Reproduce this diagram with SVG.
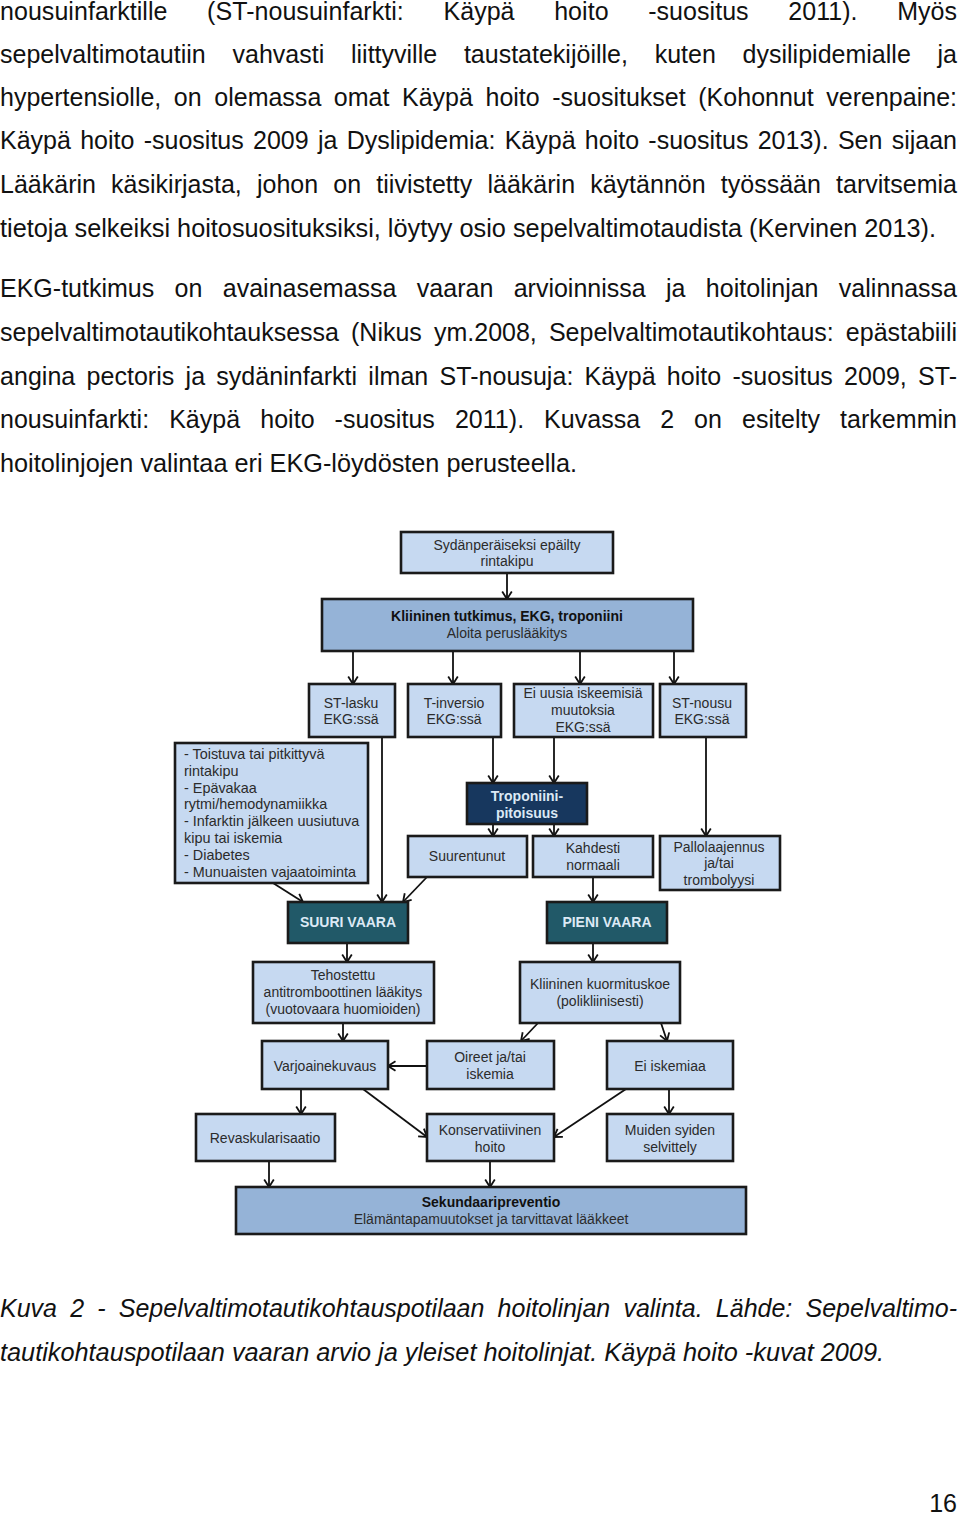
<svg xmlns="http://www.w3.org/2000/svg" width="960" height="1515" viewBox="0 0 960 1515">
<defs>
<marker id="ah" markerUnits="userSpaceOnUse" markerWidth="14" markerHeight="14" viewBox="-10 -7 14 14" refX="0" refY="0" orient="auto">
<path d="M-7.5,-4.8 L0,0 L-7.5,4.8" fill="none" stroke="#111" stroke-width="1.8"/>
</marker>
<style>
.body{font-family:"Liberation Sans",Arial,sans-serif;font-size:25px;fill:#111}
.cap{font-family:"Liberation Sans",Arial,sans-serif;font-size:25px;font-style:italic;fill:#111}
.lb{fill:#c6d9f1;stroke:#1a1a1a;stroke-width:2.6}
.mb{fill:#95b3d7;stroke:#1a1a1a;stroke-width:2.6}
.nv{fill:#17375e;stroke:#1a1a1a;stroke-width:2.6}
.tl{fill:#215968;stroke:#1a1a1a;stroke-width:2.6}
.t{font-family:"Liberation Sans",Arial,sans-serif;font-size:14px;fill:#2b2b2b;text-anchor:middle}
.tb{font-family:"Liberation Sans",Arial,sans-serif;font-size:14px;font-weight:bold;fill:#111;text-anchor:middle}
.tw{font-family:"Liberation Sans",Arial,sans-serif;font-size:14px;font-weight:bold;fill:#dce9f5;text-anchor:middle}
.tlft{font-family:"Liberation Sans",Arial,sans-serif;font-size:14.4px;fill:#2b2b2b}
.cn line{stroke:#111;stroke-width:1.8;marker-end:url(#ah)}
</style>
</defs>
<rect width="960" height="1515" fill="#fff"/>

<g id="bodytext">
<text class="body" x="0" y="20" word-spacing="32.6" textLength="957" lengthAdjust="spacing">nousuinfarktille (ST-nousuinfarkti: Käypä hoito -suositus 2011). Myös</text>
<text class="body" x="0" y="63" word-spacing="19.8" textLength="957" lengthAdjust="spacing">sepelvaltimotautiin vahvasti liittyville taustatekijöille, kuten dysilipidemialle ja</text>
<text class="body" x="0" y="106" word-spacing="5.6" textLength="957" lengthAdjust="spacing">hypertensiolle, on olemassa omat Käypä hoito -suositukset (Kohonnut verenpaine:</text>
<text class="body" x="0" y="149" word-spacing="2.3" textLength="957" lengthAdjust="spacing">Käypä hoito -suositus 2009 ja Dyslipidemia: Käypä hoito -suositus 2013). Sen sijaan</text>
<text class="body" x="0" y="193" word-spacing="8.2" textLength="957" lengthAdjust="spacing">Lääkärin käsikirjasta, johon on tiivistetty lääkärin käytännön työssään tarvitsemia</text>
<text class="body" x="0" y="237" textLength="936" lengthAdjust="spacingAndGlyphs">tietoja selkeiksi hoitosuosituksiksi, löytyy osio sepelvaltimotaudista (Kervinen 2013).</text>
<text class="body" x="0" y="297" word-spacing="13.4" textLength="957" lengthAdjust="spacing">EKG-tutkimus on avainasemassa vaaran arvioinnissa ja hoitolinjan valinnassa</text>
<text class="body" x="0" y="341" word-spacing="5.2" textLength="957" lengthAdjust="spacing">sepelvaltimotautikohtauksessa (Nikus ym.2008, Sepelvaltimotautikohtaus: epästabiili</text>
<text class="body" x="0" y="385" word-spacing="4.2" textLength="957" lengthAdjust="spacing">angina pectoris ja sydäninfarkti ilman ST-nousuja: Käypä hoito -suositus 2009, ST-</text>
<text class="body" x="0" y="428" word-spacing="13.0" textLength="957" lengthAdjust="spacing">nousuinfarkti: Käypä hoito -suositus 2011). Kuvassa 2 on esitelty tarkemmin</text>
<text class="body" x="0" y="472" textLength="577" lengthAdjust="spacingAndGlyphs">hoitolinjojen valintaa eri EKG-löydösten perusteella.</text>
<text class="cap" x="0" y="1317" word-spacing="6.2" textLength="957" lengthAdjust="spacing">Kuva 2 - Sepelvaltimotautikohtauspotilaan hoitolinjan valinta. Lähde: Sepelvaltimo-</text>
<text class="cap" x="0" y="1361" textLength="884" lengthAdjust="spacingAndGlyphs">tautikohtauspotilaan vaaran arvio ja yleiset hoitolinjat. Käypä hoito -kuvat 2009.</text>
<text class="body" x="957" y="1512" text-anchor="end">16</text>
</g>

<g id="connectors" class="cn">
<line x1="507" y1="573" x2="507" y2="599"/>
<line x1="353" y1="651" x2="353" y2="684"/>
<line x1="453" y1="651" x2="453" y2="684"/>
<line x1="580" y1="651" x2="580" y2="684"/>
<line x1="674" y1="651" x2="674" y2="684"/>
<line x1="493" y1="737" x2="493" y2="783"/>
<line x1="554" y1="737" x2="554" y2="783"/>
<line x1="493" y1="824" x2="493" y2="836"/>
<line x1="554" y1="824" x2="554" y2="836"/>
<line x1="706" y1="737" x2="706" y2="836"/>
<line x1="382" y1="737" x2="382" y2="902"/>
<line x1="273" y1="883" x2="303" y2="902"/>
<line x1="427" y1="877" x2="403" y2="902"/>
<line x1="593" y1="877" x2="593" y2="902"/>
<line x1="347" y1="943" x2="347" y2="962"/>
<line x1="593" y1="943" x2="593" y2="962"/>
<line x1="343" y1="1023" x2="343" y2="1041"/>
<line x1="538" y1="1023" x2="521" y2="1041"/>
<line x1="661" y1="1023" x2="667" y2="1041"/>
<line x1="427" y1="1066" x2="388" y2="1066"/>
<line x1="301" y1="1089" x2="301" y2="1114"/>
<line x1="363" y1="1089" x2="427" y2="1137"/>
<line x1="626" y1="1089" x2="554" y2="1137"/>
<line x1="669" y1="1089" x2="669" y2="1114"/>
<line x1="269" y1="1161" x2="269" y2="1187"/>
<line x1="490" y1="1161" x2="490" y2="1187"/>
</g>

<g id="n-sydan"><rect class="lb" x="401" y="532" width="212" height="41"/>
<text class="t" x="507" y="550">Sydänperäiseksi epäilty</text><text class="t" x="507" y="566">rintakipu</text></g>

<g id="n-kliininen"><rect class="mb" x="322" y="599" width="371" height="52"/>
<text class="tb" x="507" y="621">Kliininen tutkimus, EKG, troponiini</text><text class="t" x="507" y="638">Aloita peruslääkitys</text></g>

<g id="n-stlasku"><rect class="lb" x="309" y="684" width="86" height="53"/>
<text class="t" x="351" y="708">ST-lasku</text><text class="t" x="351" y="724">EKG:ssä</text></g>

<g id="n-tinversio"><rect class="lb" x="408" y="684" width="93" height="53"/>
<text class="t" x="454" y="708">T-inversio</text><text class="t" x="454" y="724">EKG:ssä</text></g>

<g id="n-eiuusia"><rect class="lb" x="514" y="684" width="139" height="53"/>
<text class="t" x="583" y="698">Ei uusia iskeemisiä</text><text class="t" x="583" y="715">muutoksia</text><text class="t" x="583" y="732">EKG:ssä</text></g>

<g id="n-stnousu"><rect class="lb" x="660" y="684" width="86" height="53"/>
<text class="t" x="702" y="708">ST-nousu</text><text class="t" x="702" y="724">EKG:ssä</text></g>

<g id="n-lista"><rect class="lb" x="175" y="743" width="193" height="140"/>
<text class="tlft" x="184" y="759">- Toistuva tai pitkittyvä</text>
<text class="tlft" x="184" y="776">rintakipu</text>
<text class="tlft" x="184" y="793">- Epävakaa</text>
<text class="tlft" x="184" y="809">rytmi/hemodynamiikka</text>
<text class="tlft" x="184" y="826">- Infarktin jälkeen uusiutuva</text>
<text class="tlft" x="184" y="843">kipu tai iskemia</text>
<text class="tlft" x="184" y="860">- Diabetes</text>
<text class="tlft" x="184" y="877">- Munuaisten vajaatoiminta</text></g>

<g id="n-troponiini"><rect class="nv" x="467" y="783" width="120" height="41"/>
<text class="tw" x="527" y="801">Troponiini-</text><text class="tw" x="527" y="818">pitoisuus</text></g>

<g id="n-suurentunut"><rect class="lb" x="408" y="836" width="119" height="41"/>
<text class="t" x="467" y="861">Suurentunut</text></g>

<g id="n-kahdesti"><rect class="lb" x="533" y="836" width="120" height="41"/>
<text class="t" x="593" y="853">Kahdesti</text><text class="t" x="593" y="870">normaali</text></g>

<g id="n-pallo"><rect class="lb" x="660" y="836" width="120" height="54"/>
<text class="t" x="719" y="852">Pallolaajennus</text><text class="t" x="719" y="868">ja/tai</text><text class="t" x="719" y="885">trombolyysi</text></g>

<g id="n-suuri"><rect class="tl" x="288" y="902" width="120" height="41"/>
<text class="tw" x="348" y="927">SUURI VAARA</text></g>

<g id="n-pieni"><rect class="tl" x="547" y="902" width="120" height="41"/>
<text class="tw" x="607" y="927">PIENI VAARA</text></g>

<g id="n-tehostettu"><rect class="lb" x="253" y="962" width="181" height="61"/>
<text class="t" x="343" y="980">Tehostettu</text><text class="t" x="343" y="997">antitromboottinen lääkitys</text><text class="t" x="343" y="1014">(vuotovaara huomioiden)</text></g>

<g id="n-kuormitus"><rect class="lb" x="520" y="962" width="160" height="61"/>
<text class="t" x="600" y="989">Kliininen kuormituskoe</text><text class="t" x="600" y="1006">(polikliinisesti)</text></g>

<g id="n-varjo"><rect class="lb" x="262" y="1041" width="126" height="48"/>
<text class="t" x="325" y="1071">Varjoainekuvaus</text></g>

<g id="n-oireet"><rect class="lb" x="427" y="1041" width="127" height="48"/>
<text class="t" x="490" y="1062">Oireet ja/tai</text><text class="t" x="490" y="1079">iskemia</text></g>

<g id="n-eiiskemiaa"><rect class="lb" x="607" y="1041" width="126" height="48"/>
<text class="t" x="670" y="1071">Ei iskemiaa</text></g>

<g id="n-revask"><rect class="lb" x="196" y="1114" width="139" height="47"/>
<text class="t" x="265" y="1143">Revaskularisaatio</text></g>

<g id="n-konserv"><rect class="lb" x="427" y="1114" width="127" height="47"/>
<text class="t" x="490" y="1135">Konservatiivinen</text><text class="t" x="490" y="1152">hoito</text></g>

<g id="n-muiden"><rect class="lb" x="607" y="1114" width="126" height="47"/>
<text class="t" x="670" y="1135">Muiden syiden</text><text class="t" x="670" y="1152">selvittely</text></g>

<g id="n-sekundaari"><rect class="mb" x="236" y="1187" width="510" height="47"/>
<text class="tb" x="491" y="1207">Sekundaaripreventio</text><text class="t" x="491" y="1224">Elämäntapamuutokset ja tarvittavat lääkkeet</text></g>
</svg>
